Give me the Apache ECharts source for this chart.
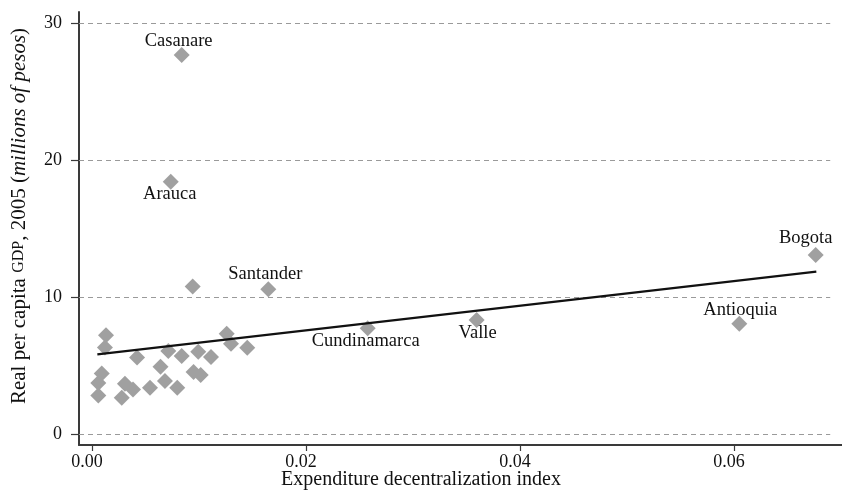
<!DOCTYPE html>
<html>
<head>
<meta charset="utf-8">
<script src="https://cdn.jsdelivr.net/npm/echarts@6/dist/echarts.min.js"></script>
<style>
html,body{margin:0;padding:0;background:#fff;}
#chart{width:842px;height:495px;}
</style>
</head>
<body>
<div id="chart"></div>
<script>
// ---- data ----
const unlabeledX = [0.00941, 0.00131, 0.00121, 0.00421, 0.00713, 0.00838, 0.00993, 0.01112, 0.01259, 0.01299, 0.01451, 0.0064, 0.00091, 0.00059, 0.00059, 0.00308, 0.00383, 0.00278, 0.00542, 0.00682, 0.00797, 0.00949, 0.01016];
const unlabeledY = [10.78, 7.23, 6.35, 5.62, 6.08, 5.72, 6.04, 5.64, 7.34, 6.61, 6.33, 4.94, 4.45, 3.76, 2.85, 3.69, 3.28, 2.68, 3.41, 3.89, 3.41, 4.56, 4.34];
const labeledNames = ['Casanare', 'Arauca', 'Santander', 'Cundinamarca', 'Valle', 'Bogota', 'Antioquia'];
const labeledX = [0.00838, 0.00736, 0.01648, 0.02577, 0.03595, 0.06764, 0.0605];
const labeledY = [27.66, 18.42, 10.58, 7.74, 8.34, 13.09, 8.08];
const fitLineX = [0.0005, 0.0677];
const fitLineY = [5.84, 11.88];
const xTicks = [0, 0.02, 0.04, 0.06];
const yTicks = [0, 10, 20, 30];
const gridLineXRange = [-0.001215, 0.069];

// ---- styling ----
const labelOffsets = {
  'Casanare': [-3, -14], 'Arauca': [-1, 12.5], 'Santander': [-3, -15],
  'Cundinamarca': [-2, 13], 'Valle': [1, 13], 'Bogota': [-10, -17], 'Antioquia': [1, -14]
};
const FONT = '"Liberation Serif", "Times New Roman", serif';
const AXIS_COLOR = '#3a3a3a';
const MARK_COLOR = '#a0a0a0';

const scatterData = unlabeledX.map((x, i) => [x, unlabeledY[i]]);
const labeledData = labeledNames.map((n, i) => ({
  name: n,
  value: [labeledX[i], labeledY[i]],
  label: { offset: labelOffsets[n] }
}));
const fitData = fitLineX.map((x, i) => [x, fitLineY[i]]);

const chart = echarts.init(document.getElementById('chart'), null, { renderer: 'canvas' });
chart.setOption({
  animation: false,
  backgroundColor: '#fff',
  grid: { left: 79, top: 12, right: 0, bottom: 50, containLabel: false },
  xAxis: {
    type: 'value',
    min: -0.001215, max: 0.0701,
    axisLine: { show: true, onZero: false, lineStyle: { color: AXIS_COLOR, width: 2 } },
    axisTick: { show: true, customValues: xTicks, length: 6, lineStyle: { color: AXIS_COLOR, width: 1.2 } },
    axisLabel: {
      customValues: xTicks, margin: 8, color: '#111', fontFamily: FONT, fontSize: 18,
      padding: [0, 10, 0, 0],
      formatter: v => v.toFixed(2)
    },
    splitLine: { show: false }
  },
  yAxis: {
    type: 'value',
    min: -0.767, max: 30.8,
    axisLine: { show: true, onZero: false, lineStyle: { color: AXIS_COLOR, width: 2 } },
    axisTick: { show: true, customValues: yTicks, length: 8, lineStyle: { color: AXIS_COLOR, width: 1.2 } },
    axisLabel: { customValues: yTicks, margin: 17, color: '#111', fontFamily: FONT, fontSize: 18 },
    splitLine: { show: false }
  },
  graphic: [{
    type: 'text',
    x: 421, y: 480,
    style: {
      text: 'Expenditure decentralization index',
      fontFamily: FONT, fontSize: 20, fill: '#111',
      textAlign: 'center', textVerticalAlign: 'middle'
    }
  }, {
    type: 'text',
    x: 19, y: 216,
    rotation: Math.PI / 2,
    style: {
      text: 'Real per capita {sc|GDP}, 2005 ({it|millions of pesos})',
      fontFamily: FONT, fontSize: 21, fill: '#111',
      textAlign: 'center', textVerticalAlign: 'middle',
      rich: {
        sc: { fontFamily: FONT, fontSize: 16, fill: '#111' },
        it: { fontFamily: FONT, fontSize: 21, fontStyle: 'italic', fill: '#111' }
      }
    }
  }],
  series: [
    {
      type: 'line',
      data: [],
      z: 1,
      silent: true,
      markLine: {
        silent: true,
        symbol: 'none',
        label: { show: false },
        lineStyle: { type: [5, 4], color: '#9a9a9a', width: 1 },
        data: yTicks.map(v => [{ coord: [gridLineXRange[0], v] }, { coord: [gridLineXRange[1], v] }])
      }
    },
    {
      type: 'scatter',
      data: scatterData,
      symbol: 'diamond',
      symbolSize: 16,
      z: 3,
      itemStyle: { color: MARK_COLOR, opacity: 1 }
    },
    {
      type: 'scatter',
      data: labeledData,
      symbol: 'diamond',
      symbolSize: 16,
      z: 3,
      itemStyle: { color: MARK_COLOR, opacity: 1 },
      label: {
        show: true, position: 'inside',
        formatter: p => p.name,
        color: '#111', fontFamily: FONT, fontSize: 18.5
      }
    },
    {
      type: 'line',
      data: fitData,
      symbol: 'none',
      z: 5,
      lineStyle: { color: '#111', width: 2.3 }
    }
  ]
});
</script>
</body>
</html>
